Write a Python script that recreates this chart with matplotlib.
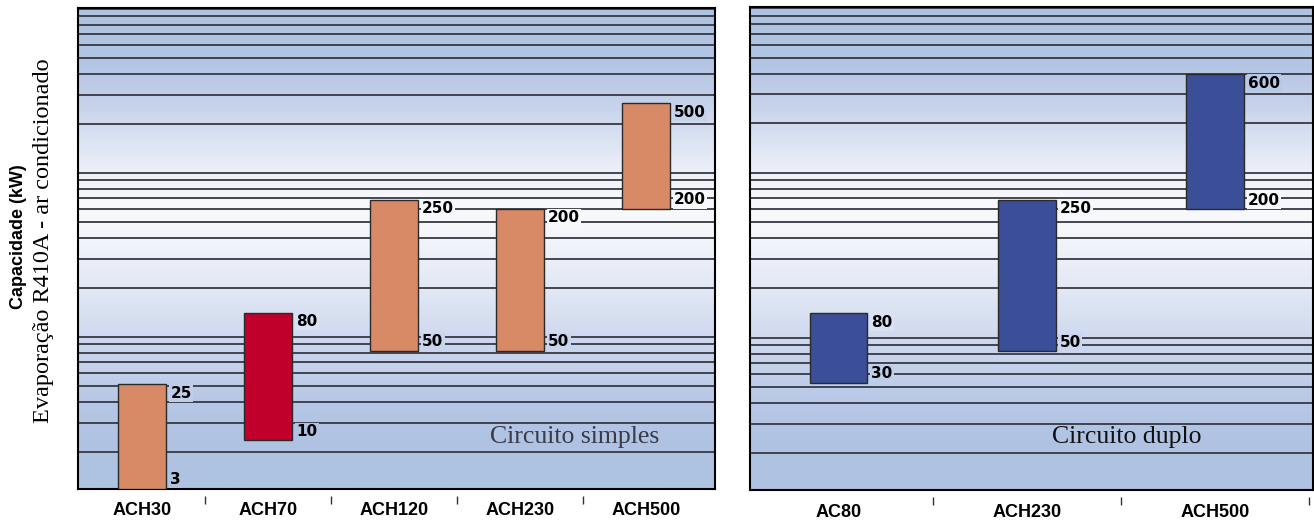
import numpy as np
import matplotlib.pyplot as plt
from matplotlib.colors import LinearSegmentedColormap
from matplotlib.ticker import LogLocator, NullLocator

# dados
simples_models = ['ACH30', 'ACH70', 'ACH120', 'ACH230', 'ACH500']
simples_min = [3, 10, 50, 50, 200]
simples_max = [25, 80, 250, 200, 500]
simples_colors = ['#d88965', '#c0002a', '#d88965', '#d88965', '#d88965']

duplo_models = ['AC80', 'ACH230', 'ACH500']
duplo_min = [30, 50, 200]
duplo_max = [80, 250, 600]
duplo_colors = ['#3a4f97', '#3a4f97', '#3a4f97']

# o esquema original nao usa escala log pura: valor -> fracao da altura
scale_vals = [3, 10, 25, 30, 50, 80, 200, 250, 500, 600, 1000]
scale_pos = [0.0, 0.100, 0.217, 0.222, 0.287, 0.366, 0.582, 0.601, 0.802, 0.861, 1.0]
lv = np.log10(scale_vals)


def fwd(v):
    v = np.clip(np.asarray(v, dtype=float), 1e-6, None)
    return np.interp(np.log10(v), lv, scale_pos)


def inv(p):
    return 10 ** np.interp(p, scale_pos, lv)


# fundo: degrade azul + grelha logaritmica
bg_pos = [0.0, 0.1, 0.184, 0.24, 0.30, 0.37, 0.417, 0.475, 0.538, 0.59,
          0.642, 0.684, 0.736, 0.788, 0.84, 0.89, 1.0]
bg_cols = ['#aec2e2', '#b0c3e3', '#b8c8e6', '#c2d0ea', '#ccd6ee', '#dae2f2',
           '#e2e8f5', '#ebeff8', '#f5f7fb', '#f8f9fc', '#f0f3f9', '#e6ebf6',
           '#d8e0f1', '#cad5ec', '#bccbe7', '#b2c5e4', '#aec2e2']
bg_cmap = LinearSegmentedColormap.from_list('fundo', list(zip(bg_pos, bg_cols)))
grid_range = (1.19, 1014)

fig = plt.figure(figsize=(13.14, 5.21), dpi=100)


def panel(rect, models, lo, hi, colors, width, xlim, seps, caption, cap_xy, cap_color):
    bg = fig.add_axes(rect)
    bg.imshow(np.linspace(0, 1, 500).reshape(-1, 1), cmap=bg_cmap, origin='lower',
              extent=[0, 1, 0, 1], transform=bg.transAxes, aspect='auto', zorder=0)
    bg.set_yscale('log')
    bg.set_xlim(0, 1)
    bg.set_ylim(*grid_range)
    bg.yaxis.set_major_locator(LogLocator(base=10))
    bg.yaxis.set_minor_locator(LogLocator(base=10, subs=np.arange(2, 10)))
    bg.xaxis.set_major_locator(NullLocator())
    bg.grid(which='both', axis='y', color='#383842', lw=1.3)
    bg.tick_params(which='both', length=0, labelleft=False, labelbottom=False)
    for s in bg.spines.values():
        s.set_visible(False)

    ax = fig.add_axes(rect)
    ax.patch.set_alpha(0)
    ax.set_yscale('function', functions=(fwd, inv))
    ax.set_ylim(3, 1000)
    ax.set_xlim(*xlim)
    x = np.arange(len(models))
    lo = np.array(lo)
    hi = np.array(hi)
    ax.bar(x, hi - lo, bottom=lo, width=width, color=colors,
           edgecolor='#2a2a2a', lw=1, zorder=3)
    for xi, a, b in zip(x, lo, hi):
        ax.annotate(str(b), xy=(xi + width / 2, b), xytext=(3, -1),
                    textcoords='offset points', ha='left', va='top',
                    fontsize=11, fontweight='bold', family='DejaVu Sans', zorder=4,
                    bbox=dict(boxstyle='square,pad=0.08', fc=bg_cmap(float(fwd(b))), ec='none'))
        ax.annotate(str(a), xy=(xi + width / 2, a), xytext=(3, 1),
                    textcoords='offset points', ha='left', va='bottom',
                    fontsize=11, fontweight='bold', family='DejaVu Sans', zorder=4,
                    bbox=dict(boxstyle='square,pad=0.08', fc=bg_cmap(float(fwd(a))), ec='none'))

    ax.set_yticks([])
    ax.yaxis.set_minor_locator(NullLocator())
    ax.set_xticks(x, models, fontsize=13, fontweight='bold', family='Liberation Sans')
    ax.tick_params(axis='x', length=0, pad=10)
    for s in ax.spines.values():
        s.set_linewidth(1.5)
        s.set_color('black')

    sec = ax.secondary_xaxis(-0.015)
    sec.set_xticks(seps)
    sec.tick_params(length=6, width=1, color='#333333', labelbottom=False)
    sec.spines['bottom'].set_visible(False)

    ax.text(cap_xy[0], cap_xy[1], caption, transform=ax.transAxes, ha='center',
            va='center', family='Liberation Serif', fontsize=18.5, color=cap_color)
    return ax


panel([78 / 1314, 32.5 / 521, 637 / 1314, 480.5 / 521], simples_models, simples_min,
      simples_max, simples_colors, 0.382, (-0.51, 4.55), np.arange(0.5, 4),
      'Circuito simples', (0.779, 0.107), '#3a3a48')
panel([750 / 1314, 31 / 521, 563 / 1314, 483 / 521], duplo_models, duplo_min,
      duplo_max, duplo_colors, 0.305, (-0.47, 2.52), np.arange(0.5, 3),
      'Circuito duplo', (0.670, 0.11), '#111111')

fig.text(19 / 1314, 1 - 237 / 521, 'Capacidade (kW)', rotation=90, ha='center',
         va='center', fontsize=13, fontweight='bold', family='Liberation Sans')
fig.text(44 / 1314, 1 - 241 / 521, 'Evaporação R410A - ar condicionado', rotation=90,
         ha='center', va='center', fontsize=17.5, family='Liberation Serif')

fig.savefig('out.png', dpi=100)
